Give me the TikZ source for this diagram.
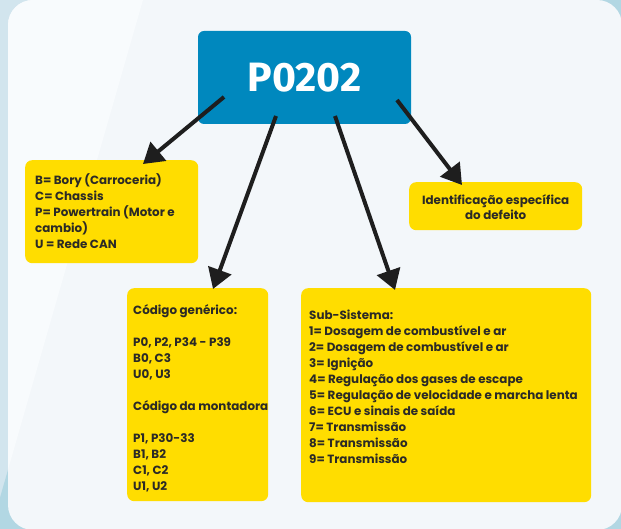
\documentclass[tikz,border=0pt]{standalone}
\usepackage{fontspec}
\setmainfont{Poppins}
\newfontfamily\codefont{Fira Sans}
\usetikzlibrary{arrows.meta,calc}
\definecolor{outerlight}{HTML}{D2E5EE}
\definecolor{outerdark}{HTML}{B2D7E3}
\definecolor{panelright}{HTML}{F3F7FA}
\definecolor{panelleft}{HTML}{F8FBFD}
\definecolor{codeblue}{HTML}{0088BE}
\definecolor{boxyellow}{HTML}{FFDD00}
\definecolor{textcol}{HTML}{2B2A26}
\definecolor{arrowcol}{HTML}{1E1E1E}
\begin{document}
\begin{tikzpicture}[x=1pt,y=-1pt,
  bluebox/.style={fill=codeblue, rounded corners=6pt, minimum width=213pt, minimum height=93pt, inner sep=0pt,
    text=white, font=\codefont\fontsize{41}{41}\selectfont\bfseries},
  ybox/.style={fill=boxyellow, rounded corners=7pt, inner sep=0pt, anchor=north west},
  txt/.style={inner sep=0pt, anchor=north west, align=left, text=textcol,
    font=\fontsize{11.9}{16}\selectfont\bfseries},
  ctxt/.style={inner sep=0pt, align=center, text=textcol,
    font=\fontsize{11.9}{15.5}\selectfont\bfseries},
  arr/.style={draw=arrowcol, line width=4pt, -{Triangle[length=20pt,width=24pt]}, fill=arrowcol}
]
\useasboundingbox (0,0) rectangle (621,529);
% background
\fill[outerlight] (0,0) rectangle (621,529);
\fill[outerdark] (143,0) -- (621,0) -- (621,529) -- (-9,529) -- cycle;
\fill[panelright, rounded corners=25pt] (8,0) rectangle (622,530);
\begin{scope}
  \clip[rounded corners=25pt] (8,0) rectangle (622,530);
  \fill[panelleft] (0,0) -- (143,0) -- (-9,529) -- (0,529) -- cycle;
\end{scope}

% nodes
\node[bluebox] (code) at (304.5,77.5) {P0202};
\node[ybox, minimum width=173pt, minimum height=103pt] (lbox) at (25,160) {};
\node[ybox, minimum width=173pt, minimum height=48pt] (rbox) at (409,182) {};
\node[ybox, minimum width=141pt, minimum height=213pt] (mbox) at (127,288) {};
\node[ybox, minimum width=290pt, minimum height=214pt] (sbox) at (301,288) {};

\node[txt] (ltext) at (35,173) {B= Bory (Carroceria)\\C= Chassis\\P= Powertrain (Motor e\\cambio)\\U = Rede CAN};
\node[ctxt] (rtext) at ($(rbox.center)+(0,1)$) {Identificação específica\\do defeito};
\node[txt] (mtext) at (133,304.5) {Código genérico:\\[16pt]P0, P2, P34 - P39\\B0, C3\\U0, U3\\[16pt]Código da montadora\\[16pt]P1, P30-33\\B1, B2\\C1, C2\\U1, U2};
\node[txt] (stext) at (309,309.5) {Sub-Sistema:\\1= Dosagem de combustível e ar\\2= Dosagem de combustível e ar\\3= Ignição\\4= Regulação dos gases de escape\\5= Regulação de velocidade e marcha lenta\\6= ECU e sinais de saída\\7= Transmissão\\8= Transmissão\\9= Transmissão};

% arrows
\coordinate (s1) at (224,97);
\coordinate (s2) at (276,116);
\coordinate (s3) at (335,116);
\coordinate (s4) at (397,100);
\coordinate (t1) at ($(lbox.north west)+(118,4)$);
\coordinate (t2) at ($(mbox.north west)+(86,1)$);
\coordinate (t3) at ($(sbox.north west)+(94,2)$);
\coordinate (t4) at ($(rbox.north west)+(53,3)$);
\draw[arr] (s1) -- (t1);
\draw[arr] (s2) -- (t2);
\draw[arr] (s3) -- (t3);
\draw[arr] (s4) -- (t4);
\end{tikzpicture}
\end{document}
